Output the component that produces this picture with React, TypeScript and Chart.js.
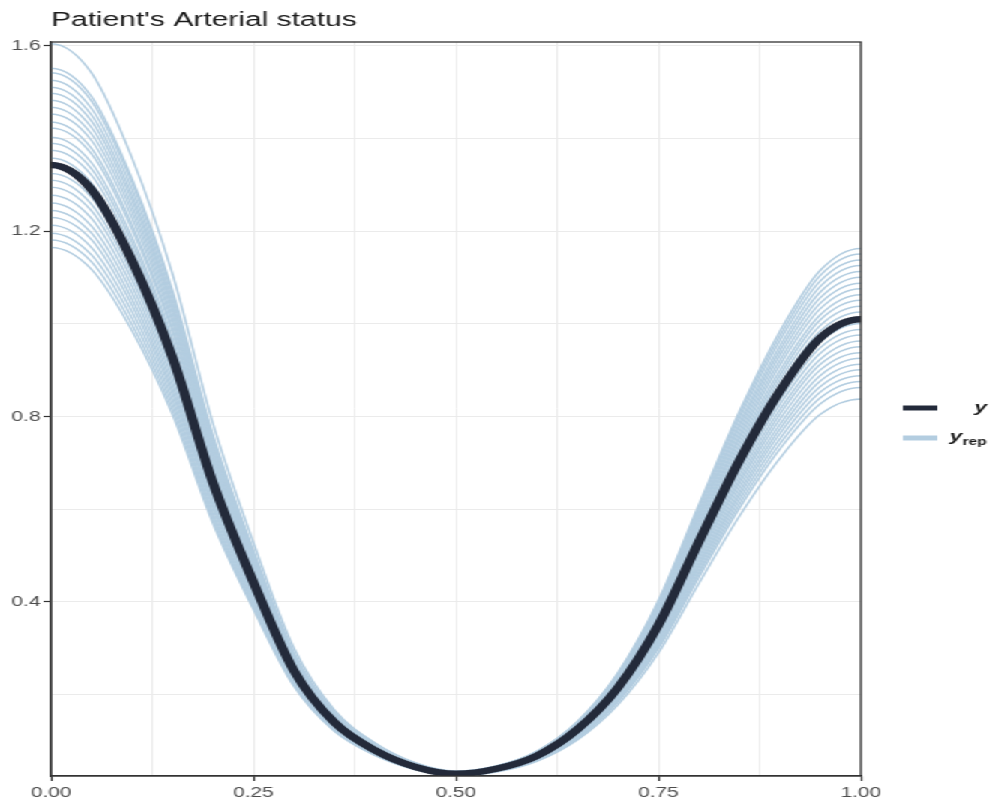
import { useEffect, useRef } from "react";
import { Chart, registerables } from "chart.js";

Chart.register(...registerables);

// ---------------- data ----------------
const chartTitle = "Patient's Arterial status";

// sample positions; -0.05 and 1.05 are mirror points just outside the panel (clipped) so the curves start/end flat
const xGrid = [-0.05, 0, 0.05, 0.1, 0.15, 0.2, 0.25, 0.3, 0.35, 0.4, 0.45, 0.5, 0.55, 0.6, 0.65, 0.7, 0.75, 0.8, 0.85, 0.9, 0.95, 1.0, 1.05];

const yObserved = [1.29, 1.343, 1.29, 1.137, 0.928, 0.658, 0.443, 0.252, 0.14, 0.08, 0.044, 0.029, 0.04, 0.068, 0.125, 0.215, 0.35, 0.53, 0.705, 0.855, 0.97, 1.01, 0.97];

const yRep: number[][] = [
  [1.542, 1.605, 1.542, 1.359, 1.109, 0.786, 0.529, 0.301, 0.167, 0.096, 0.053, 0.035, 0.046, 0.078, 0.142, 0.247, 0.403, 0.610, 0.811, 0.984, 1.116, 1.163, 1.116],
  [1.491, 1.552, 1.491, 1.314, 1.073, 0.761, 0.512, 0.291, 0.162, 0.092, 0.051, 0.034, 0.046, 0.077, 0.140, 0.245, 0.399, 0.604, 0.803, 0.974, 1.105, 1.151, 1.105],
  [1.481, 1.542, 1.481, 1.305, 1.065, 0.755, 0.509, 0.289, 0.161, 0.092, 0.051, 0.033, 0.045, 0.077, 0.139, 0.242, 0.394, 0.597, 0.795, 0.964, 1.093, 1.138, 1.093],
  [1.465, 1.526, 1.465, 1.292, 1.054, 0.747, 0.503, 0.286, 0.159, 0.091, 0.050, 0.033, 0.045, 0.076, 0.137, 0.240, 0.390, 0.590, 0.785, 0.952, 1.081, 1.126, 1.081],
  [1.451, 1.511, 1.451, 1.279, 1.044, 0.740, 0.498, 0.284, 0.158, 0.090, 0.050, 0.033, 0.044, 0.075, 0.136, 0.237, 0.386, 0.584, 0.777, 0.942, 1.069, 1.113, 1.069],
  [1.438, 1.498, 1.438, 1.268, 1.035, 0.734, 0.494, 0.281, 0.156, 0.089, 0.049, 0.032, 0.044, 0.074, 0.134, 0.234, 0.381, 0.578, 0.768, 0.932, 1.057, 1.101, 1.057],
  [1.424, 1.483, 1.424, 1.255, 1.025, 0.726, 0.489, 0.278, 0.155, 0.088, 0.049, 0.032, 0.043, 0.073, 0.132, 0.232, 0.377, 0.571, 0.759, 0.921, 1.045, 1.088, 1.045],
  [1.410, 1.468, 1.410, 1.243, 1.014, 0.719, 0.484, 0.275, 0.153, 0.087, 0.048, 0.032, 0.043, 0.072, 0.131, 0.229, 0.373, 0.564, 0.751, 0.911, 1.033, 1.076, 1.033],
  [1.396, 1.453, 1.396, 1.230, 1.004, 0.712, 0.479, 0.273, 0.151, 0.087, 0.048, 0.031, 0.042, 0.072, 0.129, 0.226, 0.368, 0.558, 0.742, 0.899, 1.020, 1.063, 1.020],
  [1.379, 1.436, 1.379, 1.215, 0.992, 0.703, 0.474, 0.269, 0.150, 0.086, 0.047, 0.031, 0.042, 0.071, 0.128, 0.224, 0.364, 0.551, 0.733, 0.889, 1.009, 1.051, 1.009],
  [1.367, 1.423, 1.367, 1.205, 0.984, 0.697, 0.470, 0.267, 0.148, 0.085, 0.047, 0.031, 0.041, 0.070, 0.126, 0.221, 0.360, 0.545, 0.725, 0.879, 0.997, 1.038, 0.997],
  [1.348, 1.403, 1.348, 1.188, 0.970, 0.688, 0.463, 0.263, 0.146, 0.084, 0.046, 0.030, 0.041, 0.069, 0.125, 0.218, 0.355, 0.538, 0.716, 0.868, 0.985, 1.026, 0.985],
  [1.335, 1.390, 1.335, 1.177, 0.960, 0.681, 0.459, 0.261, 0.145, 0.083, 0.046, 0.030, 0.040, 0.068, 0.123, 0.216, 0.351, 0.532, 0.707, 0.858, 0.973, 1.013, 0.973],
  [1.321, 1.375, 1.321, 1.164, 0.950, 0.674, 0.454, 0.258, 0.143, 0.082, 0.045, 0.030, 0.040, 0.067, 0.122, 0.213, 0.347, 0.525, 0.699, 0.847, 0.961, 1.001, 0.961],
  [1.304, 1.358, 1.304, 1.150, 0.938, 0.665, 0.448, 0.255, 0.142, 0.081, 0.044, 0.029, 0.039, 0.067, 0.120, 0.210, 0.342, 0.518, 0.689, 0.836, 0.949, 0.988, 0.949],
  [1.273, 1.325, 1.273, 1.122, 0.916, 0.649, 0.437, 0.249, 0.138, 0.079, 0.043, 0.029, 0.039, 0.066, 0.119, 0.208, 0.338, 0.512, 0.681, 0.826, 0.937, 0.976, 0.937],
  [1.258, 1.310, 1.258, 1.109, 0.905, 0.642, 0.432, 0.246, 0.137, 0.078, 0.043, 0.028, 0.038, 0.065, 0.117, 0.205, 0.334, 0.505, 0.672, 0.815, 0.924, 0.963, 0.924],
  [1.244, 1.295, 1.244, 1.096, 0.895, 0.634, 0.427, 0.243, 0.135, 0.077, 0.042, 0.028, 0.038, 0.064, 0.116, 0.202, 0.329, 0.499, 0.663, 0.805, 0.913, 0.951, 0.913],
  [1.228, 1.278, 1.228, 1.082, 0.883, 0.626, 0.422, 0.240, 0.133, 0.076, 0.042, 0.028, 0.037, 0.063, 0.114, 0.200, 0.325, 0.492, 0.655, 0.794, 0.901, 0.938, 0.901],
  [1.211, 1.261, 1.211, 1.068, 0.871, 0.618, 0.416, 0.237, 0.131, 0.075, 0.041, 0.027, 0.037, 0.062, 0.113, 0.197, 0.321, 0.485, 0.646, 0.783, 0.889, 0.926, 0.889],
  [1.196, 1.245, 1.196, 1.054, 0.860, 0.610, 0.411, 0.234, 0.130, 0.074, 0.041, 0.027, 0.036, 0.061, 0.111, 0.194, 0.316, 0.479, 0.637, 0.773, 0.877, 0.913, 0.877],
  [1.182, 1.230, 1.182, 1.041, 0.850, 0.603, 0.406, 0.231, 0.128, 0.073, 0.040, 0.027, 0.036, 0.061, 0.110, 0.192, 0.312, 0.473, 0.629, 0.763, 0.865, 0.901, 0.865],
  [1.165, 1.213, 1.165, 1.027, 0.838, 0.594, 0.400, 0.228, 0.126, 0.072, 0.040, 0.026, 0.035, 0.060, 0.108, 0.189, 0.308, 0.466, 0.620, 0.752, 0.853, 0.888, 0.853],
  [1.149, 1.196, 1.149, 1.013, 0.827, 0.586, 0.395, 0.225, 0.125, 0.071, 0.039, 0.026, 0.035, 0.059, 0.107, 0.186, 0.303, 0.460, 0.611, 0.741, 0.841, 0.876, 0.841],
  [1.134, 1.181, 1.134, 0.999, 0.816, 0.578, 0.389, 0.222, 0.123, 0.070, 0.039, 0.025, 0.034, 0.058, 0.105, 0.184, 0.299, 0.453, 0.602, 0.730, 0.828, 0.863, 0.828],
  [1.118, 1.165, 1.118, 0.986, 0.805, 0.570, 0.384, 0.218, 0.121, 0.069, 0.038, 0.025, 0.033, 0.056, 0.102, 0.178, 0.290, 0.440, 0.585, 0.710, 0.805, 0.838, 0.805],
];

const xTickValues = [0, 0.125, 0.25, 0.375, 0.5, 0.625, 0.75, 0.875, 1];
const xMajorTicks = [0, 0.25, 0.5, 0.75, 1];
const yTickValues = [0.2, 0.4, 0.6, 0.8, 1.0, 1.2, 1.4, 1.6];
const yMajorTicks = [0.4, 0.8, 1.2, 1.6];
const xLimits = [0, 1];
const yLimits = [0.0244, 1.6086];
const legendItems = ["y", "y_rep"];

// ---------------- styling ----------------
const W = 664;
const H = 807;
const STRETCH = 1.5;
const DARK = "#232a3a";
const LIGHT = "#b3cde0";
const GRID = "#ebebeb";
const AXIS = "#333333";
const TICK_TEXT = "#4d4d4d";
const FONT = "'Liberation Sans', Arial, Helvetica, sans-serif";

const isIn = (list: number[], v: number) => list.some((m) => Math.abs(m - v) < 1e-9);

const frameAndLegend = {
  id: "frameAndLegend",
  afterDatasetsDraw(chart: any) {
    const { ctx, chartArea: a } = chart;
    ctx.save();
    ctx.strokeStyle = AXIS;
    ctx.lineWidth = 1.3;
    ctx.strokeRect(a.left, a.top, a.right - a.left, a.bottom - a.top);
    ctx.restore();
  },
  afterDraw(chart: any) {
    const { ctx, chartArea: a } = chart;
    ctx.save();
    const k0 = a.right + 28;
    const k1 = k0 + 23;
    const right = a.right + 84;
    const rows = [
      { y: 408, color: DARK },
      { y: 438, color: LIGHT },
    ];
    ctx.lineCap = "butt";
    rows.forEach((r) => {
      ctx.strokeStyle = r.color;
      ctx.lineWidth = 5;
      ctx.beginPath();
      ctx.moveTo(k0, r.y);
      ctx.lineTo(k1, r.y);
      ctx.stroke();
    });
    ctx.fillStyle = "#1a1a1a";
    ctx.textAlign = "right";
    ctx.textBaseline = "alphabetic";
    ctx.font = `italic bold 15px ${FONT}`;
    ctx.fillText(legendItems[0], right, 412);
    const [base, sub] = legendItems[1].split("_");
    ctx.font = `bold 10.5px ${FONT}`;
    const subW = ctx.measureText(sub).width;
    ctx.fillText(sub, right, 445);
    ctx.font = `italic bold 15px ${FONT}`;
    ctx.fillText(base, right - subW, 441);
    ctx.restore();
  },
};

export default function App() {
  const ref = useRef<HTMLCanvasElement>(null);

  useEffect(() => {
    const canvas = ref.current;
    if (!canvas) return;

    const common = {
      pointRadius: 0,
      pointHoverRadius: 0,
      fill: false,
      cubicInterpolationMode: "monotone" as const,
      borderCapStyle: "butt" as const,
      borderJoinStyle: "round" as const,
      clip: 0,
    };

    const datasets: any[] = [
      {
        label: legendItems[0],
        data: xGrid.map((x, i) => ({ x, y: yObserved[i] })),
        borderColor: DARK,
        borderWidth: 6.5,
        order: 0,
        ...common,
      },
      ...yRep.map((vals, r) => ({
        label: `${legendItems[1]} ${r + 1}`,
        data: xGrid.map((x, i) => ({ x, y: vals[i] })),
        borderColor: LIGHT,
        borderWidth: 1.5,
        order: 1,
        ...common,
      })),
    ];

    const chart = new Chart(canvas, {
      type: "line",
      data: { datasets },
      plugins: [frameAndLegend],
      options: {
        animation: false,
        responsive: false,
        devicePixelRatio: 1,
        events: [],
        layout: { padding: { top: 0, right: 90, bottom: 0, left: 0 } },
        plugins: {
          legend: { display: false },
          tooltip: { enabled: false },
          title: {
            display: true,
            text: chartTitle,
            align: "start",
            fullSize: false,
            color: "#1a1a1a",
            font: { family: FONT, size: 20, weight: "normal" },
            padding: { top: 8, bottom: 10 },
          },
        },
        scales: {
          x: {
            type: "linear",
            min: xLimits[0],
            max: xLimits[1],
            afterBuildTicks: (scale: any) => {
              scale.ticks = xTickValues.map((v) => ({ value: v }));
            },
            afterFit: (scale: any) => {
              scale.height = 31;
            },
            grid: {
              color: GRID,
              lineWidth: 1,
              drawTicks: true,
              tickLength: 5,
              tickWidth: 1.2,
              tickColor: (c: any) => (isIn(xMajorTicks, c.tick.value) ? AXIS : "rgba(0,0,0,0)"),
            },
            border: { display: true, color: AXIS, width: 1.3 },
            ticks: {
              autoSkip: false,
              maxRotation: 0,
              minRotation: 0,
              padding: 4,
              color: TICK_TEXT,
              font: { family: FONT, size: 14 },
              callback: (v: any) => (isIn(xMajorTicks, Number(v)) ? Number(v).toFixed(2) : ""),
            },
          },
          y: {
            type: "linear",
            min: yLimits[0],
            max: yLimits[1],
            afterBuildTicks: (scale: any) => {
              scale.ticks = yTickValues.map((v) => ({ value: v }));
            },
            afterFit: (scale: any) => {
              scale.width = 34;
            },
            grid: {
              color: GRID,
              lineWidth: 1,
              drawTicks: true,
              tickLength: 5,
              tickWidth: 1.2,
              tickColor: (c: any) => (isIn(yMajorTicks, c.tick.value) ? AXIS : "rgba(0,0,0,0)"),
            },
            border: { display: true, color: AXIS, width: 1.3 },
            ticks: {
              autoSkip: false,
              padding: 2,
              color: TICK_TEXT,
              font: { family: FONT, size: 14 },
              callback: (v: any) => (isIn(yMajorTicks, Number(v)) ? Number(v).toFixed(1) : ""),
            },
          },
        },
      } as any,
    });

    return () => chart.destroy();
  }, []);

  return (
    <div
      style={{
        position: "fixed",
        left: 0,
        top: 0,
        width: W,
        height: H,
        transform: `scaleX(${STRETCH})`,
        transformOrigin: "0 0",
        background: "#ffffff",
      }}
    >
      <canvas ref={ref} width={W} height={H} style={{ width: W, height: H, display: "block" }} />
    </div>
  );
}
